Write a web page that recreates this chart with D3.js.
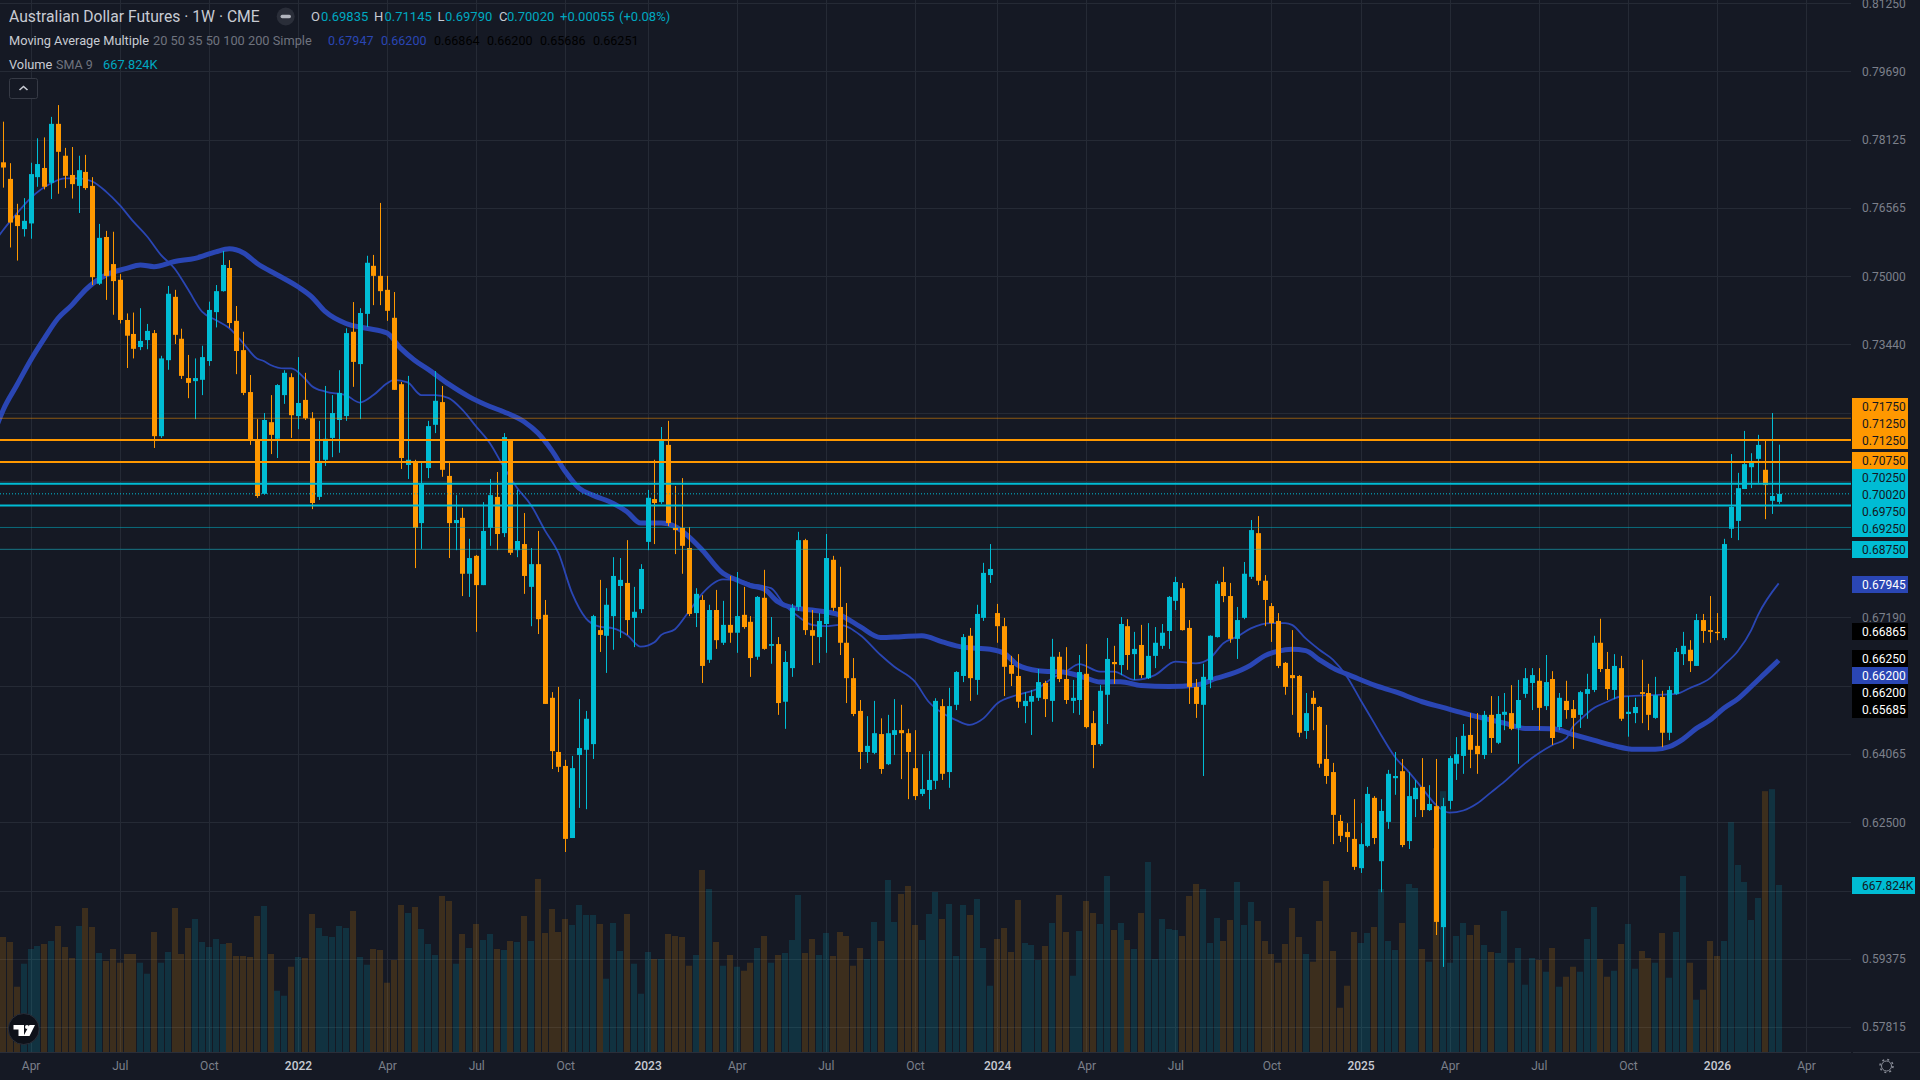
<!DOCTYPE html>
<html>
<head>
<meta charset="utf-8">
<title>Australian Dollar Futures</title>
<script src="https://cdn.jsdelivr.net/npm/d3@7"></script>
<style>
  html, body { margin: 0; padding: 0; background: #151924; overflow: hidden; }
  svg { display: block; font-family: Roboto, "Noto Sans", sans-serif; }
  .axis path, .axis line { display: none; }
</style>
</head>
<body>
<div id="chart"></div>
<script>
'use strict';

// weekly candles, prices in pips (0.0001)
var opens = [
  7761,7723,7640,7608,7621,7727,7748,7714,7849,7776,
  7732,7707,7739,7707,7483,7590,7528,7492,7400,7368,
  7338,7354,7370,7134,7308,7453,7357,7267,7260,7263,
  7306,7418,7466,7519,7398,7331,7235,7125,7002,7166,
  7128,7228,7269,7180,7217,7175,6995,7080,7130,7171,
  7180,7373,7299,7414,7524,7501,7469,7405,7253,7068,
  7073,6935,7061,7160,7212,7043,6935,6947,6819,6860,
  6793,6924,6995,6912,7125,6873,6887,6789,6841,6725,
  6535,6411,6379,6214,6404,6416,6429,6690,6677,6722,
  6791,6798,6718,6738,6892,6990,6983,7114,6924,6924,
  6878,6729,6759,6622,6736,6661,6702,6684,6725,6709,
  6629,6764,6654,6658,6526,6603,6743,6896,6690,6674,
  6704,6851,6743,6661,6580,6505,6411,6409,6452,6383,
  6450,6461,6454,6374,6315,6324,6345,6516,6365,6519,
  6585,6677,6576,6718,6816,6729,6699,6610,6585,6516,
  6526,6535,6569,6528,6629,6578,6528,6530,6590,6477,
  6429,6542,6617,6610,6699,6635,6656,6580,6631,6654,
  6688,6757,6786,6695,6560,6519,6576,6674,6800,6768,
  6670,6718,6812,6912,6803,6745,6711,6615,6587,6585,
  6459,6535,6514,6395,6365,6253,6228,6212,6145,6196,
  6306,6161,6251,6351,6367,6207,6303,6331,6278,6287,
  6010,6299,6384,6402,6450,6425,6404,6496,6432,6496,
  6500,6466,6544,6569,6574,6516,6578,6468,6528,6509,
  6496,6544,6553,6661,6601,6553,6603,6498,6500,6548,
  6546,6489,6537,6455,6544,6635,6645,6608,6713,6690,
  6686,6672,6922,6940,7013,7063,7082,7057,6986,6983.5
];
var highs = [
  7854,7759,7666,7679,7760,7816,7818,7865,7892,7794,
  7796,7776,7778,7727,7620,7604,7602,7505,7415,7417,
  7427,7391,7377,7318,7478,7469,7380,7320,7312,7341,
  7442,7480,7558,7537,7432,7373,7274,7173,7187,7228,
  7253,7285,7278,7315,7279,7189,7169,7249,7228,7285,
  7381,7441,7427,7547,7549,7668,7501,7464,7258,7272,
  7080,7077,7169,7283,7249,7073,6999,6970,6899,6862,
  6983,7036,7052,7141,7127,7011,6958,6878,6917,6759,
  6548,6560,6393,6402,6532,6505,6725,6805,6786,6857,
  6855,6896,6789,6841,7011,7080,7155,7169,7020,7038,
  6926,6786,6770,6748,6782,6757,6814,6823,6789,6722,
  6768,6828,6720,6674,6642,6750,6915,6899,6736,6729,
  6910,6860,6835,6752,6626,6530,6493,6528,6488,6496,
  6532,6519,6464,6461,6406,6413,6534,6532,6558,6596,
  6681,6695,6748,6844,6887,6750,6718,6631,6635,6548,
  6553,6601,6574,6670,6640,6651,6576,6633,6658,6505,
  6564,6672,6654,6720,6715,6686,6702,6706,6697,6704,
  6768,6812,6798,6713,6578,6613,6678,6803,6835,6798,
  6743,6846,6942,6951,6816,6752,6729,6617,6690,6587,
  6546,6551,6516,6473,6386,6267,6248,6303,6248,6331,
  6310,6303,6370,6411,6395,6365,6347,6397,6335,6395,
  6306,6402,6445,6475,6500,6500,6505,6539,6539,6546,
  6564,6576,6603,6603,6603,6633,6596,6546,6574,6530,
  6551,6590,6677,6716,6640,6635,6631,6539,6535,6622,
  6567,6583,6551,6562,6649,6686,6667,6727,6727,6768,
  6729,6899,7093,7050,7146,7095,7137,7123,7187,7114.5
];
var lows = [
  7703,7566,7536,7591,7586,7705,7699,7677,7689,7702,
  7678,7645,7698,7480,7480,7446,7412,7392,7290,7312,
  7331,7333,7107,7130,7286,7345,7265,7221,7173,7228,
  7295,7383,7465,7382,7276,7228,7114,6993,7000,7093,
  7084,7208,7130,7150,7171,6967,6988,7066,7086,7096,
  7169,7247,7173,7384,7434,7434,7398,7240,7059,7036,
  6832,6876,7038,7141,7041,6855,6873,6768,6766,6686,
  6793,6883,6873,6903,6862,6857,6773,6699,6681,6521,
  6372,6365,6182,6214,6283,6280,6395,6640,6592,6645,
  6672,6679,6651,6729,6873,6887,6979,6928,6864,6819,
  6722,6697,6569,6615,6647,6656,6661,6638,6693,6583,
  6622,6645,6613,6496,6464,6583,6734,6679,6610,6615,
  6638,6734,6633,6523,6493,6372,6386,6406,6361,6381,
  6404,6349,6303,6301,6310,6280,6326,6347,6329,6507,
  6571,6528,6542,6711,6798,6661,6539,6562,6512,6477,
  6450,6528,6491,6480,6571,6521,6500,6496,6465,6374,
  6425,6475,6567,6587,6599,6576,6580,6578,6603,6647,
  6647,6736,6689,6521,6489,6356,6557,6673,6754,6661,
  6624,6715,6807,6793,6699,6663,6603,6542,6496,6445,
  6441,6461,6375,6338,6200,6205,6182,6141,6134,6193,
  6200,6090,6235,6313,6193,6189,6262,6262,6276,5992,
  5919,6280,6347,6361,6374,6361,6395,6409,6429,6461,
  6461,6384,6535,6507,6461,6507,6427,6461,6487,6418,
  6466,6487,6548,6594,6530,6532,6482,6446,6477,6477,
  6461,6487,6422,6438,6542,6610,6594,6608,6661,6661,
  6667,6667,6901,6896,7013,7015,7027,6944,6956,6979
];
var closes = [
  7749,7623,7615,7627,7734,7757,7705,7849,7785,7730,
  7711,7743,7702,7498,7588,7501,7489,7400,7364,7334,
  7352,7375,7134,7312,7460,7366,7272,7256,7267,7315,
  7423,7466,7526,7393,7329,7233,7125,6997,7171,7137,
  7251,7279,7182,7210,7175,6981,7075,7128,7187,7233,
  7370,7304,7416,7531,7501,7466,7421,7240,7084,7080,
  6924,7025,7157,7215,7057,6935,6942,6819,6855,6793,
  6917,6999,6910,7132,6867,6894,6814,6841,6715,6521,
  6413,6377,6212,6374,6420,6487,6722,6679,6748,6814,
  6805,6713,6732,6830,6993,6981,7123,6935,6919,6883,
  6727,6773,6608,6736,6667,6702,6684,6722,6697,6626,
  6766,6647,6658,6523,6617,6741,6896,6690,6677,6711,
  6855,6741,6661,6580,6498,6411,6425,6454,6372,6454,
  6461,6454,6411,6310,6326,6347,6528,6361,6516,6594,
  6674,6580,6727,6821,6830,6699,6606,6590,6526,6528,
  6539,6571,6532,6629,6578,6530,6535,6594,6468,6427,
  6551,6624,6612,6704,6633,6647,6587,6631,6661,6684,
  6766,6800,6690,6560,6521,6583,6677,6796,6768,6670,
  6713,6819,6919,6803,6759,6706,6608,6560,6580,6455,
  6500,6521,6384,6356,6267,6219,6216,6148,6200,6315,
  6214,6276,6361,6356,6198,6310,6329,6278,6292,6022,
  6287,6397,6406,6448,6416,6406,6496,6443,6498,6503,
  6464,6530,6580,6587,6512,6571,6443,6535,6507,6489,
  6548,6555,6661,6601,6555,6608,6487,6503,6514,6544,
  6496,6541,6455,6553,6640,6654,6619,6713,6688,6686,
  6683,6887,6972,7015,7070,7077,7114,7022,6997,7002
];
// volume in thousands of contracts
var volumes = [
  460,440,261,353,412,424,432,444,504,420,
  376,504,576,500,396,364,412,357,392,392,
  357,313,480,357,400,576,392,496,532,440,
  420,452,432,436,384,384,380,544,584,392,
  245,225,341,380,376,552,496,464,460,504,
  496,564,380,349,412,408,277,368,588,556,
  580,492,432,388,624,604,353,472,416,512,
  448,472,412,408,444,440,544,444,692,476,
  572,480,532,508,588,548,548,512,293,516,
  404,552,353,233,400,372,372,472,464,460,
  345,388,728,652,440,345,388,341,325,357,
  416,464,357,388,396,448,628,396,452,388,
  476,384,480,464,345,416,372,520,444,688,
  520,632,664,508,448,552,640,532,592,384,
  588,548,612,416,265,452,496,400,608,436,
  428,368,424,516,628,480,305,484,604,556,
  512,704,488,516,448,412,556,760,372,532,
  492,488,464,624,672,652,436,536,444,528,
  680,508,600,524,444,392,357,432,576,460,
  392,361,524,684,404,177,265,480,436,476,
  500,652,444,408,516,672,656,412,361,815,
  1043,357,464,516,468,508,428,400,396,564,
  357,416,269,376,368,321,416,261,301,341,
  321,452,580,372,301,325,432,512,333,404,
  376,357,476,297,480,704,357,209,249,444,
  384,444,919,748,680,528,616,1043,1051,667.824
];

// moving averages, read at the bars listed (bar -1 runs off the left edge)
var ma20Bars = [-1,0,2,4,7,9,11,13,15,17,19,21,23,25,27,29,31,33,35,37,38,39,41,42,44,45,47,50,52,54,56,57,59,61,63,65,67,69,71,73,75,77,79,81,83,85,87,89,91,93,95,96,98,100,102,105,107,109,112,114,116,118,120,122,125,128,130,133,135,137,139,141,142,143,145,148,151,153,155,157,160,162,165,168,171,174,176,178,180,182,185,187,188,190,192,194,196,198,200,201,203,205,207,209,211,213,215,217,219,222,224,226,228,229,230,232,234,236,240,244,246,249,251,253,255,256,259];
var ma20Values = [7585,7606,7644,7679,7713,7724,7724,7717,7694,7663,7625,7591,7549,7518,7469,7419,7400,7381,7347,7312,7306,7297,7289,7289,7266,7249,7236,7228,7211,7228,7255,7263,7257,7228,7228,7221,7194,7156,7118,7064,7015,6976,6919,6866,6774,6717,6698,6694,6679,6652,6662,6679,6692,6732,6774,6806,6805,6796,6786,6747,6721,6702,6699,6702,6679,6633,6606,6572,6526,6500,6484,6473,6478,6488,6522,6542,6557,6580,6595,6612,6595,6595,6576,6587,6618,6614,6625,6660,6675,6694,6706,6706,6702,6671,6645,6622,6584,6530,6477,6450,6400,6366,6328,6290,6272,6277,6293,6318,6343,6385,6408,6427,6442,6469,6484,6511,6526,6538,6541,6544,6557,6580,6610,6641,6690,6725,6797];
var ma50Bars = [-1,0,2,4,6,8,10,12,15,18,20,22,25,28,31,33,35,37,40,43,45,47,50,53,56,58,60,62,65,68,71,73,76,78,80,82,84,86,89,91,93,96,98,100,102,105,107,109,111,113,115,118,122,125,128,131,134,137,140,144,146,148,151,155,158,160,163,166,170,174,177,179,182,184,186,188,190,192,194,197,200,203,207,210,213,216,219,222,226,229,232,235,238,241,243,245,247,249,251,253,255,257,259];
var ma50Values = [7155,7194,7251,7308,7358,7404,7434,7469,7503,7518,7526,7522,7534,7541,7556,7563,7554,7530,7503,7476,7453,7419,7392,7381,7370,7335,7308,7287,7253,7224,7202,7190,7167,7141,7102,7053,7015,6999,6980,6961,6935,6935,6927,6904,6873,6820,6805,6792,6784,6755,6742,6736,6725,6698,6673,6675,6677,6663,6651,6646,6637,6610,6597,6593,6580,6571,6572,6563,6561,6564,6580,6589,6610,6631,6642,6646,6643,6622,6603,6583,6564,6549,6526,6513,6500,6488,6477,6465,6464,6451,6438,6425,6417,6417,6423,6440,6465,6484,6511,6532,6561,6591,6621];

// horizontal levels drawn across the chart
var thickLevels = [0.7125, 0.7075, 0.7025, 0.6975];
var thickLevelColors = ['#ff9800', '#ff9800', '#00bcd4', '#00bcd4'];
var thinLevels = [0.7175, 0.6925, 0.6875];
var thinLevelColors = ['#ff9800', '#00bcd4', '#00bcd4'];
var lastPrice = 0.7002;

var priceTicks = [0.8125, 0.7969, 0.78125, 0.76565, 0.75, 0.7344, 0.71875, 0.70315, 0.6875, 0.6719, 0.65625, 0.64065, 0.625, 0.60935, 0.59375, 0.57815];
// these grid levels sit behind the stacked labels, so they show no text of their own
var coveredTicks = [0.71875, 0.70315, 0.6875, 0.65625, 0.60935];
var timeTickBars = [4, 17, 30, 43, 56, 69, 82, 94, 107, 120, 133, 145, 158, 171, 185, 198, 211, 224, 237, 250, 263];
var timeTickLabels = ['Apr', 'Jul', 'Oct', '2022', 'Apr', 'Jul', 'Oct', '2023', 'Apr', 'Jul', 'Oct', '2024', 'Apr', 'Jul', 'Oct', '2025', 'Apr', 'Jul', 'Oct', '2026', 'Apr'];

var scaleLabels = ['0.71750', '0.71250', '0.71250', '0.70750', '0.70250', '0.70020', '0.69750', '0.69250', '0.68750', '0.67945', '0.66865', '0.66250', '0.66200', '0.66200', '0.65685'];
var scaleLabelFills = ['#ff9800', '#ff9800', '#ff9800', '#ff9800', '#00bcd4', '#00bcd4', '#00bcd4', '#00bcd4', '#00bcd4', '#2a46b4', '#000000', '#000000', '#2a46b4', '#000000', '#000000'];
var scaleLabelInks = ['#131722', '#131722', '#131722', '#131722', '#131722', '#131722', '#131722', '#131722', '#131722', '#ffffff', '#ffffff', '#ffffff', '#ffffff', '#ffffff', '#ffffff'];

var legendOhlc = [['O', '0.69835'], ['H', '0.71145'], ['L', '0.69790'], ['C', '0.70020']];
var legendMaValues = ['0.67947', '0.66200', '0.66864', '0.66200', '0.65686', '0.66251'];
var legendMaColors = ['#2a46b4', '#2a46b4', '#000000', '#000000', '#000000', '#000000'];

// layout
var width = 1920, height = 1080;
var plotRight = 1851, plotBottom = 1052;
var up = '#00bcd4', down = '#ff9800', ma = '#2a46b4', grid = '#252a35', axisInk = '#7c808b';
var labelRowCenters = [406.5, 423.5, 440.5, 460.5, 477.5, 494.5, 511.5, 528.5, 549.5, 584.5, 631.5, 658.5, 675.5, 692.5, 709.5];

var svg = d3.select('#chart').append('svg').attr('width', width).attr('height', height);

var xBar = d3.scaleLinear().domain([0, 263]).range([3.2, 1806.1]);
var yPrice = d3.scaleLinear().domain([0.75, 0.625]).range([276.3, 822.3]);
var yVolume = d3.scaleLinear().domain([0, 667.824]).range([plotBottom, 885]);
var yPips = function (v) { return yPrice(v / 10000); };

svg.append('rect').attr('width', width).attr('height', height).attr('fill', '#151924');
svg.append('clipPath').attr('id', 'plot').append('rect').attr('width', plotRight).attr('height', plotBottom);
var plot = svg.append('g').attr('clip-path', 'url(#plot)');

// grid
plot.selectAll('.hgrid').data(priceTicks).enter().append('line')
  .attr('x1', 0).attr('x2', plotRight)
  .attr('y1', function (d) { return Math.round(yPrice(d)) + 0.5; })
  .attr('y2', function (d) { return Math.round(yPrice(d)) + 0.5; })
  .attr('stroke', grid);
plot.selectAll('.vgrid').data(timeTickBars).enter().append('line')
  .attr('y1', 0).attr('y2', plotBottom)
  .attr('x1', function (d) { return Math.round(xBar(d)) + 0.5; })
  .attr('x2', function (d) { return Math.round(xBar(d)) + 0.5; })
  .attr('stroke', grid);

var bars = d3.range(closes.length);

// volume
plot.selectAll('.vol').data(bars).enter().append('rect')
  .attr('x', function (i) { return Math.round(xBar(i)) - 3; })
  .attr('width', 6)
  .attr('y', function (i) { return yVolume(volumes[i]); })
  .attr('height', function (i) { return plotBottom - yVolume(volumes[i]); })
  .attr('fill', function (i) { return closes[i] >= opens[i] ? up : down; })
  .attr('fill-opacity', function (i) { return closes[i] >= opens[i] ? 0.16 : 0.17; });

// moving averages
var maLine = d3.line()
  .x(function (d) { return xBar(d[0]); })
  .y(function (d) { return yPips(d[1]); })
  .curve(d3.curveMonotoneX);
plot.append('path').attr('d', maLine(d3.zip(ma20Bars, ma20Values)))
  .attr('fill', 'none').attr('stroke', ma).attr('stroke-width', 1.8);
plot.append('path').attr('d', maLine(d3.zip(ma50Bars, ma50Values)))
  .attr('fill', 'none').attr('stroke', ma).attr('stroke-width', 5);

// candles
var candle = plot.selectAll('.candle').data(bars).enter().append('g');
candle.append('rect')
  .attr('x', function (i) { return Math.round(xBar(i)); })
  .attr('width', 1)
  .attr('y', function (i) { return yPips(highs[i]); })
  .attr('height', function (i) { return yPips(lows[i]) - yPips(highs[i]); })
  .attr('fill', function (i) { return closes[i] >= opens[i] ? up : down; });
candle.append('rect')
  .attr('x', function (i) { return Math.round(xBar(i)) - 2; })
  .attr('width', 5)
  .attr('y', function (i) { return yPips(Math.max(opens[i], closes[i])); })
  .attr('height', function (i) { return Math.max(1, Math.abs(yPips(opens[i]) - yPips(closes[i]))); })
  .attr('fill', function (i) { return closes[i] >= opens[i] ? up : down; });

// levels
plot.selectAll('.thin').data(thinLevels).enter().append('line')
  .attr('x1', 0).attr('x2', plotRight)
  .attr('y1', function (d) { return yPrice(d); })
  .attr('y2', function (d) { return yPrice(d); })
  .attr('stroke', function (d, i) { return thinLevelColors[i]; })
  .attr('stroke-opacity', 0.5);
plot.selectAll('.thick').data(thickLevels).enter().append('line')
  .attr('x1', 0).attr('x2', plotRight)
  .attr('y1', function (d) { return yPrice(d); })
  .attr('y2', function (d) { return yPrice(d); })
  .attr('stroke', function (d, i) { return thickLevelColors[i]; })
  .attr('stroke-width', 2);
plot.append('line')
  .attr('x1', 0).attr('x2', plotRight)
  .attr('y1', yPrice(lastPrice)).attr('y2', yPrice(lastPrice))
  .attr('stroke', up).attr('stroke-dasharray', '1 2');

// axes
var priceAxis = d3.axisRight(yPrice)
  .tickValues(priceTicks.filter(function (d) { return coveredTicks.indexOf(d) < 0; }))
  .tickSize(0).tickPadding(11)
  .tickFormat(d3.format('.5f'));
svg.append('g').attr('class', 'axis').attr('transform', 'translate(' + plotRight + ',0)').call(priceAxis)
  .selectAll('text').attr('font-size', 12).attr('fill', axisInk).attr('font-family', 'Roboto');

var timeAxis = d3.axisBottom(xBar).tickValues(timeTickBars).tickSize(0).tickPadding(9)
  .tickFormat(function (d, i) { return timeTickLabels[i]; });
svg.append('g').attr('class', 'axis').attr('transform', 'translate(0,' + plotBottom + ')').call(timeAxis)
  .selectAll('text').attr('font-size', 12).attr('font-family', 'Roboto')
  .attr('fill', function (d, i) { return timeTickLabels[i].length === 4 ? '#c8cbd3' : axisInk; })
  .attr('font-weight', function (d, i) { return timeTickLabels[i].length === 4 ? 500 : 400; });

svg.append('line').attr('x1', 0).attr('x2', plotRight).attr('y1', plotBottom + 0.5).attr('y2', plotBottom + 0.5).attr('stroke', '#2a2e39');
svg.append('line').attr('x1', plotRight + 2).attr('x2', width).attr('y1', plotBottom + 0.5).attr('y2', plotBottom + 0.5).attr('stroke', '#2a2e39');

// stacked price labels on the scale
var labelGroup = svg.append('g');
labelGroup.selectAll('rect').data(scaleLabels).enter().append('rect')
  .attr('x', plotRight + 1).attr('width', 56).attr('height', 17)
  .attr('y', function (d, i) { return labelRowCenters[i] - 8.5; })
  .attr('fill', function (d, i) { return scaleLabelFills[i]; });
labelGroup.selectAll('text').data(scaleLabels).enter().append('text')
  .attr('x', plotRight + 11).attr('font-size', 12).attr('dy', '0.35em')
  .attr('y', function (d, i) { return labelRowCenters[i]; })
  .attr('fill', function (d, i) { return scaleLabelInks[i]; })
  .text(function (d) { return d; });
labelGroup.append('rect').attr('x', plotRight + 1).attr('y', 877).attr('width', 63).attr('height', 17).attr('fill', up);
labelGroup.append('text').attr('x', plotRight + 11).attr('y', 885.5).attr('dy', '0.35em').attr('font-size', 12)
  .attr('fill', '#131722').text('667.824K');

// legend
var ink = '#c8cbd3', dim = '#6f737e', teal = '#00a8c0';
function legend(x, y, txt, fill, size) {
  return svg.append('text').attr('x', x).attr('y', y).attr('dy', '0.35em')
    .attr('font-size', size || 12).attr('fill', fill).text(txt);
}
legend(9, 16.5, 'Australian Dollar Futures \u00b7 1W \u00b7 CME', ink, 15.7);
svg.append('circle').attr('cx', 285.7).attr('cy', 16.5).attr('r', 9).attr('fill', '#2a2e39');
svg.append('rect').attr('x', 280.5).attr('y', 14.8).attr('width', 10.5).attr('height', 3.5).attr('rx', 1.7).attr('fill', '#b2b5be');
var ohlcX = [311, 374, 437.5, 499];
var ohlcValueX = [321, 384.5, 445, 507];
legendOhlc.forEach(function (d, i) {
  legend(ohlcX[i], 16.5, d[0], ink, 13);
  legend(ohlcValueX[i], 16.5, d[1], teal, 13);
});
legend(560, 16.5, '+0.00055', teal, 13);
legend(619, 16.5, '(+0.08%)', teal, 13);

legend(9, 40.5, 'Moving Average Multiple', ink, 12.8);
legend(153, 40.5, '20 50 35 50 100 200 Simple', dim, 12.8);
var maValueX = [328, 381, 434, 487, 540, 593];
legendMaValues.forEach(function (d, i) { legend(maValueX[i], 40.5, d, legendMaColors[i], 12.5); });

legend(9, 64.5, 'Volume', ink, 12.8);
legend(56, 64.5, 'SMA 9', dim, 12.5);
legend(103, 64.5, '667.824K', teal, 12.8);

// collapse button
svg.append('rect').attr('x', 9.5).attr('y', 78.5).attr('width', 28).attr('height', 20).attr('rx', 2)
  .attr('fill', '#151924').attr('stroke', '#363a45');
svg.append('path').attr('d', 'M19.5 90 L23.5 86.5 L27.5 90').attr('fill', 'none').attr('stroke', '#c8cbd3').attr('stroke-width', 1.6);

// logo
svg.append('circle').attr('cx', 23.7).attr('cy', 1029).attr('r', 15.5).attr('fill', '#0e1119').attr('stroke', '#2a2e39');
svg.append('path').attr('fill', '#ffffff')
  .attr('d', 'M13.5 1025 H24 V1036 H18.5 V1029.5 H13.5 Z M29.5 1025 H35 L29.5 1036 H23.5 Z');
svg.append('circle').attr('cx', 27).attr('cy', 1027).attr('r', 2).attr('fill', '#ffffff');

// settings gear
svg.append('circle').attr('cx', 1886.5).attr('cy', 1066).attr('r', 5).attr('fill', 'none').attr('stroke', '#8a8e99');
svg.append('circle').attr('cx', 1886.5).attr('cy', 1066).attr('r', 6.5).attr('fill', 'none').attr('stroke', '#8a8e99')
  .attr('stroke-width', 1.5).attr('stroke-dasharray', '2 3.1');
</script>
</body>
</html>
